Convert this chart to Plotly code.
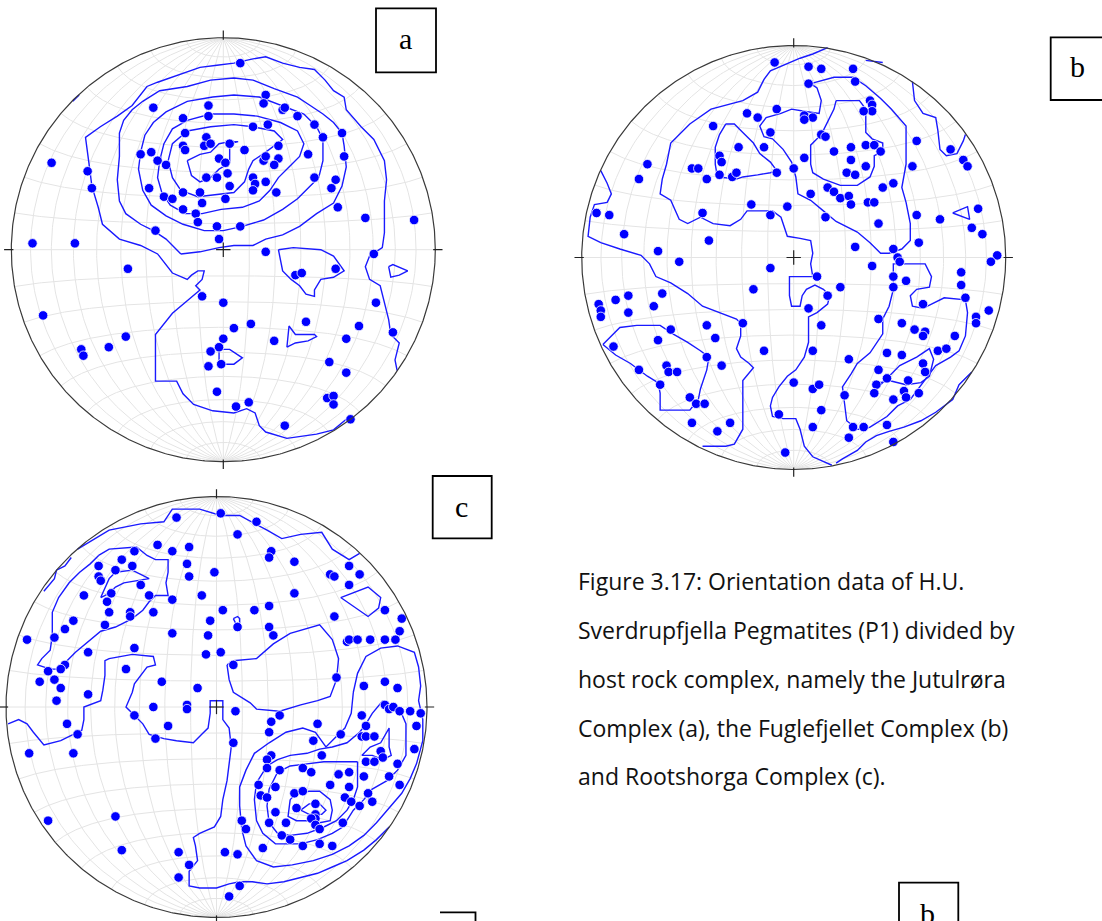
import numpy as np
import plotly.graph_objects as go

W, H = 1102, 921

# Poles to pegmatite planes as (east, north) positions on a unit equal-area net
poles_a = [(0.08,0.88),(0.20,0.73),(0.19,0.69),(0.28,0.66),(0.29,0.67),(-0.07,0.68),(-0.07,0.63),(-0.33,0.67),
    (-0.19,0.62),(0.35,0.63),(0.43,0.59),(0.47,0.53),(0.56,0.55),(0.14,0.58),(0.21,0.59),(-0.18,0.55),(-0.08,0.53),
    (-0.09,0.49),(-0.06,0.50),(0.03,0.50),(-0.19,0.49),(-0.18,0.47),(0.26,0.49),(0.10,0.47),(-0.39,0.45),(-0.34,0.46),
    (-0.31,0.42),(-0.27,0.40),(-0.02,0.43),(0.01,0.41),(0.19,0.42),(0.20,0.44),(0.26,0.43),(0.24,0.40),(0.40,0.45),
    (0.57,0.44),(-0.81,0.41),(-0.64,0.37),(-0.62,0.29),(0.02,0.36),(-0.08,0.34),(-0.03,0.34),(0.14,0.34),(0.15,0.31),
    (0.20,0.32),(0.03,0.30),(0.43,0.34),(0.53,0.33),(0.51,0.29),(-0.35,0.29),(-0.19,0.27),(-0.11,0.27),(0.14,0.28),
    (0.25,0.27),(-0.28,0.25),(-0.24,0.24),(-0.10,0.22),(0.01,0.24),(-0.19,0.19),(-0.13,0.17),(-0.12,0.13),(-0.03,0.11),
    (0.08,0.11),(0.54,0.20),(0.67,0.15),(0.90,0.14),(-0.32,0.09),(-0.02,0.05),(-0.90,0.03),(-0.70,0.03),(0.20,-0.01),
    (0.71,-0.02),(-0.45,-0.09),(0.53,-0.09),(0.34,-0.12),(0.37,-0.11),(-0.10,-0.22),(0.00,-0.25),(0.72,-0.25),
    (-0.85,-0.31),(0.39,-0.34),(0.13,-0.35),(0.05,-0.37),(0.64,-0.36),(0.80,-0.39),(-0.46,-0.41),(-0.54,-0.46),
    (-0.67,-0.47),(-0.66,-0.50),(0.00,-0.42),(0.24,-0.43),(0.58,-0.42),(-0.02,-0.46),(-0.06,-0.48),(-0.07,-0.55),
    (-0.01,-0.54),(0.50,-0.53),(0.58,-0.58),(-0.03,-0.67),(0.49,-0.70),(0.52,-0.69),(0.52,-0.73),(0.06,-0.74),
    (0.12,-0.72),(0.29,-0.83),(0.60,-0.80)]

poles_b = [(-0.09,0.92),(0.07,0.90),(0.13,0.89),(0.28,0.89),(0.29,0.83),(0.07,0.82),(0.36,0.74),(0.37,0.72),
    (0.37,0.69),(0.33,0.69),(-0.08,0.70),(-0.22,0.68),(-0.17,0.66),(0.05,0.67),(0.09,0.66),(0.05,0.65),(-0.38,0.62),
    (-0.11,0.59),(0.13,0.58),(0.15,0.57),(0.58,0.55),(0.74,0.51),(0.80,0.46),(0.82,0.43),(-0.26,0.52),(-0.14,0.52),
    (-0.35,0.48),(-0.34,0.45),(0.27,0.52),(0.34,0.53),(0.38,0.53),(0.41,0.50),(0.19,0.50),(0.27,0.46),(0.34,0.43),
    (0.05,0.47),(0.00,0.42),(-0.69,0.44),(-0.48,0.42),(-0.45,0.42),(-0.73,0.37),(-0.41,0.37),(-0.35,0.39),(-0.29,0.38),
    (-0.27,0.40),(-0.08,0.40),(0.25,0.40),(0.29,0.39),(0.56,0.43),(0.47,0.35),(0.42,0.33),(0.16,0.33),(0.19,0.31),
    (0.22,0.28),(0.26,0.29),(0.27,0.25),(0.08,0.30),(0.35,0.26),(0.38,0.26),(-0.20,0.25),(-0.03,0.24),(-0.11,0.20),
    (0.15,0.19),(0.40,0.16),(0.58,0.20),(0.69,0.18),(0.87,0.23),(0.84,0.14),(0.89,0.11),(-0.93,0.21),(-0.87,0.20),
    (-0.80,0.11),(-0.43,0.21),(-0.40,0.08),(-0.64,0.03),(-0.54,-0.02),(0.29,0.05),(0.59,0.07),(0.47,0.04),(0.49,0.00),
    (0.50,-0.02),(0.96,0.01),(0.93,-0.02),(0.37,-0.04),(-0.11,-0.05),(0.11,-0.09),(0.47,-0.09),(0.53,-0.11),
    (0.47,-0.14),(0.79,-0.07),(0.79,-0.13),(0.81,-0.19),(-0.19,-0.15),(0.22,-0.14),(0.16,-0.18),(0.07,-0.24),
    (-0.92,-0.22),(-0.91,-0.25),(-0.91,-0.28),(-0.84,-0.20),(-0.78,-0.18),(-0.62,-0.17),(-0.78,-0.26),(-0.66,-0.23),
    (0.61,-0.22),(0.92,-0.25),(0.86,-0.28),(0.86,-0.31),(0.40,-0.29),(0.51,-0.31),(0.57,-0.34),(0.62,-0.35),
    (0.61,-0.37),(0.76,-0.37),(0.13,-0.32),(-0.24,-0.31),(-0.41,-0.32),(-0.58,-0.34),(-0.37,-0.38),(-0.64,-0.39),
    (-0.85,-0.42),(-0.14,-0.44),(0.09,-0.44),(0.44,-0.45),(0.51,-0.46),(0.68,-0.44),(0.72,-0.43),(0.26,-0.48),
    (-0.41,-0.47),(-0.34,-0.51),(-0.60,-0.51),(-0.59,-0.54),(-0.55,-0.54),(-0.73,-0.53),(0.40,-0.53),(0.44,-0.57),
    (0.61,-0.50),(0.62,-0.54),(0.54,-0.58),(0.39,-0.60),(0.38,-0.64),(0.52,-0.63),(0.53,-0.66),(0.59,-0.64),
    (0.47,-0.67),(-0.63,-0.60),(0.00,-0.59),(0.09,-0.62),(0.12,-0.60),(0.24,-0.65),(-0.49,-0.66),(-0.46,-0.69),
    (-0.42,-0.69),(0.13,-0.72),(-0.07,-0.74),(-0.48,-0.78),(-0.36,-0.82),(-0.30,-0.78),(0.09,-0.80),(0.28,-0.80),
    (0.33,-0.80),(0.44,-0.79),(0.26,-0.85),(0.47,-0.87),(-0.04,-0.92)]

poles_c = [(0.02,0.92),(-0.19,0.90),(0.19,0.88),(0.10,0.82),(-0.28,0.77),(-0.21,0.74),(-0.13,0.76),(-0.39,0.74),
    (0.26,0.74),(0.25,0.71),(0.37,0.69),(-0.45,0.70),(-0.40,0.67),(-0.56,0.67),(-0.48,0.65),(-0.56,0.62),(-0.55,0.60),
    (-0.14,0.68),(-0.13,0.62),(-0.01,0.64),(0.54,0.63),(0.56,0.62),(0.63,0.67),(0.68,0.63),(0.63,0.58),(-0.36,0.58),
    (-0.50,0.54),(-0.63,0.53),(-0.52,0.50),(-0.32,0.53),(-0.21,0.51),(-0.07,0.53),(0.37,0.54),(-0.51,0.45),(-0.41,0.45),
    (-0.41,0.43),(-0.30,0.45),(0.03,0.46),(0.18,0.46),(0.25,0.48),(0.56,0.43),(0.80,0.46),(0.88,0.42),(-0.68,0.41),
    (-0.72,0.37),(-0.53,0.39),(-0.03,0.41),(0.10,0.38),(0.25,0.38),(0.27,0.34),(0.87,0.36),(-0.90,0.32),(-0.77,0.33),
    (-0.21,0.35),(-0.04,0.34),(0.62,0.31),(0.63,0.32),(0.67,0.32),(0.73,0.32),(0.80,0.32),(0.85,0.32),(-0.61,0.26),
    (-0.39,0.28),(-0.05,0.25),(0.02,0.26),(-0.72,0.20),(-0.74,0.18),(-0.80,0.17),(-0.77,0.13),(-0.84,0.12),(-0.74,0.09),
    (-0.43,0.18),(0.08,0.20),(-0.26,0.12),(-0.09,0.09),(0.57,0.14),(0.70,0.10),(0.80,0.12),(0.86,0.09),(-0.76,0.03),
    (-0.61,0.06),(-0.30,0.00),(-0.14,0.01),(-0.14,-0.01),(0.09,-0.02),(0.80,0.01),(0.82,-0.01),(0.84,0.00),(0.87,-0.02),
    (0.92,-0.02),(0.97,-0.03),(0.69,-0.04),(0.30,-0.04),(0.26,-0.07),(-0.39,-0.04),(-0.71,-0.08),(-0.23,-0.09),
    (0.48,-0.08),(0.71,-0.09),(0.95,-0.09),(-0.66,-0.13),(-0.29,-0.15),(0.25,-0.12),(0.59,-0.13),(0.69,-0.14),
    (0.71,-0.14),(0.75,-0.14),(0.46,-0.16),(0.08,-0.17),(-0.89,-0.22),(-0.68,-0.22),(0.26,-0.23),(0.50,-0.23),
    (0.78,-0.21),(0.94,-0.20),(0.24,-0.25),(0.79,-0.24),(0.71,-0.26),(0.75,-0.26),(0.86,-0.27),(0.24,-0.29),
    (0.30,-0.30),(0.41,-0.29),(0.45,-0.31),(0.58,-0.32),(0.63,-0.31),(0.70,-0.33),(0.82,-0.33),(0.20,-0.37),
    (0.28,-0.38),(0.54,-0.37),(0.63,-0.38),(0.87,-0.37),(0.37,-0.41),(0.41,-0.40),(0.21,-0.42),(0.24,-0.43),
    (0.61,-0.43),(0.64,-0.45),(0.72,-0.41),(0.74,-0.45),(0.47,-0.46),(0.38,-0.48),(0.68,-0.47),(0.28,-0.50),
    (0.47,-0.51),(0.47,-0.53),(0.45,-0.53),(0.47,-0.56),(0.49,-0.58),(0.33,-0.55),(0.25,-0.55),(0.12,-0.54),
    (0.14,-0.58),(0.60,-0.55),(0.31,-0.61),(0.35,-0.63),(0.41,-0.66),(0.49,-0.65),(0.55,-0.66),(0.22,-0.67),
    (-0.80,-0.54),(-0.48,-0.52),(-0.45,-0.68),(-0.18,-0.69),(0.04,-0.69),(0.10,-0.70),(-0.13,-0.75),(-0.18,-0.81),
    (0.11,-0.85),(0.06,-0.90)]

# Density contour paths (net coordinates); "open" paths end on the primitive circle
a_open = [
    [(0.58,-0.80),(0.52,-0.85),(0.44,-0.87),(0.36,-0.88),(0.30,-0.89),(0.20,-0.86),(0.17,-0.83),(0.15,-0.77),
     (0.11,-0.75),(0.05,-0.77),(-0.05,-0.76),(-0.14,-0.73),(-0.19,-0.68),(-0.22,-0.62),(-0.32,-0.62),(-0.32,-0.40),
     (-0.24,-0.30),(-0.11,-0.19),(-0.13,-0.17),(-0.10,-0.14),(-0.09,-0.10),(-0.12,-0.10),(-0.15,-0.12),(-0.17,-0.14),
     (-0.24,-0.11),(-0.31,-0.02),(-0.39,0.02),(-0.49,0.05),(-0.57,0.12),(-0.59,0.20),(-0.62,0.30),(-0.63,0.38),
     (-0.64,0.45),(-0.65,0.53),(-0.58,0.58),(-0.50,0.63),(-0.43,0.68),(-0.36,0.77),(-0.31,0.79),(-0.20,0.83),
     (-0.11,0.86),(-0.03,0.87),(0.05,0.88),(0.14,0.90),(0.20,0.91),(0.28,0.88),(0.36,0.86),(0.43,0.85),(0.48,0.80),
     (0.52,0.75),(0.57,0.72),(0.58,0.66),(0.65,0.58),(0.71,0.52),(0.76,0.42),(0.77,0.33),(0.76,0.23),(0.76,0.08),
     (0.75,0.01),(0.69,-0.03),(0.67,-0.08),(0.69,-0.14),(0.74,-0.17),(0.76,-0.25),(0.78,-0.33),(0.79,-0.40),
     (0.83,-0.44),(0.81,-0.52),(0.82,-0.57)],
    [(-0.71,0.70),(-0.68,0.73)],
]
a_closed = [
    [(-0.20,-0.02),(-0.11,-0.01),(-0.02,0.01),(0.05,0.02),(0.14,0.02),(0.20,0.05),(0.28,0.07),(0.36,0.11),(0.44,0.17),
     (0.52,0.22),(0.56,0.30),(0.58,0.39),(0.57,0.49),(0.56,0.55),(0.52,0.60),(0.47,0.64),(0.41,0.68),(0.35,0.72),
     (0.24,0.76),(0.14,0.80),(0.05,0.81),(-0.06,0.80),(-0.17,0.77),(-0.30,0.75),(-0.38,0.70),(-0.43,0.66),(-0.47,0.61),
     (-0.49,0.55),(-0.49,0.44),(-0.50,0.33),(-0.49,0.23),(-0.46,0.17),(-0.39,0.12),(-0.33,0.09),(-0.27,0.05)],
    [(-0.05,0.72),(0.05,0.73),(0.17,0.72),(0.28,0.68),(0.38,0.64),(0.44,0.58),(0.47,0.52),(0.47,0.42),(0.45,0.34),
     (0.41,0.30),(0.35,0.24),(0.28,0.19),(0.19,0.14),(0.09,0.11),(0.00,0.09),(-0.09,0.09),(-0.19,0.12),(-0.27,0.16),
     (-0.34,0.21),(-0.38,0.28),(-0.40,0.38),(-0.39,0.46),(-0.37,0.54),(-0.33,0.60),(-0.27,0.65),(-0.17,0.70)],
    [(-0.17,0.61),(-0.06,0.64),(0.05,0.64),(0.16,0.63),(0.27,0.60),(0.35,0.56),(0.38,0.50),(0.36,0.44),(0.31,0.39),
     (0.26,0.34),(0.22,0.28),(0.17,0.23),(0.09,0.20),(-0.01,0.19),(-0.10,0.17),(-0.18,0.17),(-0.25,0.21),(-0.29,0.27),
     (-0.31,0.34),(-0.30,0.42),(-0.28,0.50),(-0.24,0.57)],
    [(-0.17,0.56),(-0.06,0.58),(0.05,0.59),(0.14,0.58),(0.24,0.56),(0.28,0.52),(0.20,0.46),(0.14,0.42),(0.12,0.38),
     (0.10,0.32),(0.05,0.27),(-0.03,0.26),(-0.12,0.25),(-0.20,0.28),(-0.24,0.34),(-0.26,0.42),(-0.24,0.50)],
    [(-0.17,0.42),(-0.11,0.45),(-0.06,0.46),(-0.02,0.50),(0.03,0.51),(0.07,0.51),(0.03,0.50),(0.03,0.41),(-0.02,0.38),
     (-0.06,0.34),(-0.11,0.32),(-0.15,0.35)],
    [(0.26,0.00),(0.33,0.01),(0.46,0.00),(0.52,-0.03),(0.57,-0.10),(0.52,-0.13),(0.46,-0.14),(0.43,-0.19),(0.43,-0.22),
     (0.39,-0.21),(0.36,-0.17),(0.32,-0.14),(0.28,-0.10),(0.27,-0.04)],
    [(0.78,-0.08),(0.80,-0.07),(0.87,-0.10),(0.83,-0.12),(0.79,-0.13)],
    [(0.30,-0.46),(0.31,-0.36),(0.34,-0.40),(0.43,-0.40),(0.44,-0.41),(0.40,-0.43),(0.34,-0.44)],
    [(-0.02,-0.47),(0.03,-0.47),(0.09,-0.51),(0.05,-0.54),(-0.02,-0.54)],
]

b_open = [
    [(0.16,0.99),(0.09,0.96),(0.03,0.94),(-0.06,0.90),(-0.11,0.88),(-0.14,0.84),(-0.17,0.78),(-0.24,0.74),(-0.32,0.72),
     (-0.39,0.70),(-0.49,0.63),(-0.58,0.54),(-0.60,0.44),(-0.62,0.37),(-0.63,0.30),(-0.58,0.27),(-0.54,0.18),
     (-0.50,0.16),(-0.44,0.19),(-0.38,0.16),(-0.30,0.15),(-0.25,0.18),(-0.22,0.22),(-0.18,0.22),(-0.10,0.22),
     (-0.06,0.19),(-0.03,0.10),(0.03,0.09),(0.08,0.08),(0.09,0.02),(0.08,-0.03),(0.09,-0.09),(0.03,-0.09),(-0.02,-0.09),
     (-0.02,-0.18),(-0.01,-0.23),(0.03,-0.23),(0.04,-0.18),(0.06,-0.15),(0.10,-0.13),(0.14,-0.15),(0.17,-0.18),
     (0.16,-0.22),(0.11,-0.26),(0.07,-0.28),(0.07,-0.40),(0.05,-0.47),(0.01,-0.53),(-0.03,-0.56),(-0.07,-0.61),
     (-0.10,-0.66),(-0.11,-0.70),(-0.10,-0.75),(-0.05,-0.76),(0.01,-0.76),(0.03,-0.81),(0.05,-0.89),(0.09,-0.94),
     (0.18,-0.98)],
    [(-0.91,0.41),(-0.88,0.35),(-0.86,0.30),(-0.88,0.26),(-0.94,0.25),(-0.96,0.19),(-0.97,0.10),(-0.91,0.07),
     (-0.82,0.04),(-0.72,0.01),(-0.68,-0.03),(-0.65,-0.09),(-0.58,-0.12),(-0.50,-0.17),(-0.43,-0.23),(-0.35,-0.26),
     (-0.27,-0.29),(-0.25,-0.31),(-0.25,-0.37),(-0.27,-0.43),(-0.25,-0.47),(-0.21,-0.50),(-0.19,-0.52),(-0.24,-0.58),
     (-0.24,-0.66),(-0.24,-0.81),(-0.28,-0.88),(-0.32,-0.89),(-0.43,-0.89)],
    [(0.56,0.83),(0.57,0.74),(0.61,0.68),(0.67,0.66),(0.68,0.60),(0.69,0.51),(0.72,0.48),(0.77,0.49),(0.80,0.55),
     (0.81,0.58)],
    [(0.34,0.93),(0.42,0.92)],
    [(0.84,-0.54),(0.78,-0.60),(0.75,-0.67),(0.67,-0.73),(0.60,-0.77),(0.52,-0.80),(0.45,-0.82),(0.39,-0.84),
     (0.34,-0.87),(0.30,-0.91),(0.23,-0.95),(0.20,-0.97)],
]
b_closed = [
    [(0.08,0.82),(0.19,0.85),(0.28,0.85),(0.34,0.81),(0.41,0.75),(0.46,0.70),(0.53,0.62),(0.53,0.44),(0.51,0.33),
     (0.53,0.26),(0.55,0.16),(0.55,0.08),(0.51,0.04),(0.45,0.02),(0.41,0.02),(0.36,0.07),(0.30,0.12),(0.20,0.17),
     (0.14,0.22),(0.08,0.27),(0.02,0.30),(0.01,0.38),(-0.01,0.45),(-0.05,0.51),(-0.10,0.56),(-0.14,0.57),(-0.16,0.62),
     (-0.13,0.66),(-0.06,0.68),(-0.01,0.70),(0.05,0.69),(0.12,0.68),(0.13,0.74),(0.11,0.80)],
    [(0.20,0.74),(0.31,0.74),(0.34,0.70),(0.34,0.59),(0.37,0.56),(0.42,0.54),(0.42,0.50),(0.38,0.48),(0.38,0.43),
     (0.36,0.38),(0.30,0.34),(0.22,0.34),(0.14,0.37),(0.09,0.40),(0.08,0.44),(0.08,0.53),(0.12,0.57),(0.14,0.60),
     (0.19,0.70)],
    [(-0.32,0.63),(-0.28,0.63),(-0.24,0.59),(-0.19,0.54),(-0.16,0.49),(-0.11,0.45),(-0.08,0.41),(-0.11,0.40),
     (-0.17,0.39),(-0.24,0.38),(-0.27,0.37),(-0.36,0.38),(-0.37,0.44),(-0.37,0.52),(-0.35,0.58)],
    [(-0.90,-0.41),(-0.82,-0.33),(-0.74,-0.32),(-0.63,-0.32),(-0.57,-0.36),(-0.50,-0.40),(-0.44,-0.44),(-0.40,-0.47),
     (-0.41,-0.53),(-0.43,-0.59),(-0.44,-0.62),(-0.45,-0.67),(-0.49,-0.72),(-0.63,-0.72),(-0.63,-0.64),(-0.64,-0.59),
     (-0.69,-0.56),(-0.77,-0.50),(-0.84,-0.46)],
    [(0.75,0.21),(0.82,0.24),(0.83,0.18)],
    [(0.52,-0.03),(0.62,-0.03),(0.65,-0.09),(0.64,-0.14),(0.58,-0.15),(0.55,-0.18),(0.56,-0.23),(0.61,-0.24),
     (0.71,-0.19),(0.81,-0.20),(0.82,-0.26),(0.81,-0.37),(0.78,-0.44),(0.74,-0.47),(0.67,-0.51),(0.61,-0.59),
     (0.55,-0.67),(0.49,-0.70),(0.44,-0.75),(0.36,-0.80),(0.33,-0.81),(0.30,-0.81),(0.25,-0.77),(0.24,-0.69),
     (0.23,-0.61),(0.27,-0.55),(0.30,-0.50),(0.36,-0.45),(0.42,-0.36),(0.42,-0.29),(0.45,-0.23),(0.47,-0.15),
     (0.47,-0.03)],
    [(0.39,-0.62),(0.45,-0.56),(0.50,-0.51),(0.58,-0.47),(0.64,-0.43),(0.66,-0.48),(0.64,-0.56),(0.60,-0.59),
     (0.53,-0.60),(0.45,-0.58),(0.41,-0.59)],
]

c_open = [
    [(-0.66,0.75),(-0.51,0.84),(-0.36,0.87),(-0.25,0.88),(-0.21,0.94),(-0.08,0.94),(0.02,0.91),(0.11,0.91),(0.24,0.84),
     (0.31,0.80),(0.40,0.82),(0.50,0.83),(0.55,0.75),(0.63,0.70),(0.68,0.73)],
    [(-0.82,0.55),(-0.77,0.61),(-0.76,0.65),(-0.72,0.67),(-0.69,0.71)],
    [(-0.99,-0.08),(-0.94,-0.06),(-0.90,-0.08),(-0.87,-0.12),(-0.82,-0.18),(-0.74,-0.16),(-0.68,-0.13),(-0.64,-0.11),
     (-0.63,-0.06),(-0.63,0.00),(-0.55,0.03),(-0.54,0.08),(-0.53,0.15),(-0.53,0.22),(-0.51,0.23),(-0.40,0.25),
     (-0.30,0.24),(-0.29,0.20),(-0.33,0.19),(-0.36,0.15),(-0.39,0.11),(-0.40,0.07),(-0.43,0.00),(-0.40,-0.03),
     (-0.35,-0.08),(-0.32,-0.13),(-0.25,-0.15),(-0.19,-0.16),(-0.11,-0.17),(-0.07,-0.13),(-0.04,-0.10),(-0.03,-0.03),
     (-0.03,0.03),(0.03,0.03),(0.03,-0.06),(0.06,-0.10),(0.07,-0.19),(0.06,-0.27),(0.05,-0.35),(0.03,-0.44),
     (0.02,-0.52),(-0.01,-0.57),(-0.08,-0.60),(-0.11,-0.62),(-0.10,-0.66),(-0.09,-0.73),(-0.13,-0.78),(-0.13,-0.85),
     (-0.08,-0.86),(0.00,-0.86),(0.06,-0.84),(0.11,-0.83),(0.17,-0.83),(0.24,-0.84),(0.32,-0.83),(0.40,-0.81),
     (0.48,-0.79),(0.55,-0.76),(0.62,-0.73),(0.70,-0.68),(0.76,-0.63),(0.82,-0.57)],
]
c_closed = [
    [(-0.56,0.72),(-0.51,0.75),(-0.38,0.76),(-0.33,0.72),(-0.29,0.70),(-0.23,0.70),(-0.23,0.64),(-0.24,0.59),
     (-0.23,0.53),(-0.29,0.53),(-0.32,0.50),(-0.35,0.46),(-0.40,0.42),(-0.48,0.38),(-0.55,0.36),(-0.62,0.30),
     (-0.67,0.26),(-0.71,0.22),(-0.74,0.18),(-0.79,0.18),(-0.85,0.20),(-0.83,0.23),(-0.79,0.27),(-0.78,0.34),
     (-0.78,0.38),(-0.78,0.45),(-0.75,0.52),(-0.70,0.59),(-0.65,0.64),(-0.60,0.68)],
    [(-0.55,0.52),(-0.51,0.61),(-0.48,0.64),(-0.40,0.65),(-0.32,0.61),(-0.38,0.60),(-0.44,0.59),(-0.48,0.57),
     (-0.51,0.54)],
    [(0.05,0.20),(0.08,0.22),(0.19,0.23),(0.27,0.30),(0.35,0.35),(0.49,0.39),(0.55,0.32),(0.58,0.23),(0.57,0.13),
     (0.54,0.05),(0.48,0.03),(0.40,0.01),(0.30,-0.02),(0.19,-0.01),(0.16,0.02),(0.08,0.07),(0.06,0.13)],
    [(0.65,0.07),(0.67,0.16),(0.71,0.24),(0.78,0.28),(0.86,0.29),(0.94,0.26),(0.96,0.19),(0.97,0.10),(0.96,0.03),
     (0.98,-0.06),(0.98,-0.16),(0.95,-0.27),(0.92,-0.34),(0.88,-0.41),(0.82,-0.48),(0.76,-0.55),(0.70,-0.61),
     (0.63,-0.66),(0.55,-0.70),(0.46,-0.73),(0.36,-0.75),(0.27,-0.76),(0.19,-0.73),(0.14,-0.66),(0.12,-0.58),
     (0.11,-0.47),(0.11,-0.38),(0.14,-0.30),(0.18,-0.22),(0.25,-0.17),(0.33,-0.12),(0.41,-0.10),(0.47,-0.12),
     (0.52,-0.19),(0.56,-0.15),(0.61,-0.10),(0.64,-0.03)],
    [(0.79,0.03),(0.87,-0.01),(0.90,-0.08),(0.90,-0.16),(0.90,-0.23),(0.86,-0.30),(0.81,-0.35),(0.74,-0.39),
     (0.70,-0.44),(0.65,-0.49),(0.60,-0.57),(0.55,-0.60),(0.48,-0.63),(0.40,-0.65),(0.33,-0.65),(0.28,-0.65),
     (0.22,-0.60),(0.19,-0.54),(0.18,-0.44),(0.19,-0.36),(0.24,-0.28),(0.29,-0.25),(0.35,-0.23),(0.43,-0.22),
     (0.49,-0.20),(0.55,-0.19),(0.62,-0.17),(0.68,-0.12),(0.71,-0.08),(0.74,-0.03)],
    [(0.67,-0.26),(0.67,-0.31),(0.67,-0.38),(0.65,-0.44),(0.62,-0.49),(0.57,-0.54),(0.51,-0.57),(0.43,-0.60),
     (0.35,-0.61),(0.29,-0.60),(0.25,-0.55),(0.24,-0.47),(0.25,-0.39),(0.29,-0.31),(0.35,-0.28),(0.43,-0.27),
     (0.51,-0.26),(0.59,-0.26)],
    [(0.69,-0.23),(0.73,-0.19),(0.78,-0.17),(0.81,-0.12),(0.82,-0.10),(0.82,-0.19),(0.83,-0.23),(0.79,-0.25),
     (0.74,-0.23)],
    [(0.35,-0.44),(0.38,-0.41),(0.44,-0.40),(0.49,-0.40),(0.54,-0.44),(0.55,-0.49),(0.54,-0.54),(0.49,-0.55),
     (0.44,-0.54),(0.38,-0.54),(0.34,-0.52)],
    [(0.40,-0.49),(0.44,-0.46),(0.49,-0.46),(0.52,-0.49),(0.50,-0.51),(0.44,-0.51)],
    [(0.59,0.52),(0.72,0.57),(0.78,0.52),(0.77,0.47),(0.72,0.43)],
    [(0.08,0.42),(0.10,0.43),(0.11,0.42),(0.11,0.40),(0.09,0.40)],
]

panel_labels = ["a", "b", "c"]

caption_lines = [
    "Figure 3.17: Orientation data of H.U.",
    "Sverdrupfjella Pegmatites (P1) divided by",
    "host rock complex, namely the Jutulrøra",
    "Complex (a), the Fuglefjellet Complex (b)",
    "and Rootshorga Complex (c).",
]

# ---- layout of the three nets on the page (pixel centre and radius) ----
nets = [
    dict(poles=poles_a, open=a_open, closed=a_closed, cx=223.3, cy=249.7, r=212.0),
    dict(poles=poles_b, open=b_open, closed=b_closed, cx=793.7, cy=257.5, r=212.0),
    dict(poles=poles_c, open=c_open, closed=c_closed, cx=216.5, cy=707.0, r=210.5),
]

BLUE = "#0000ff"
LINE_BLUE = "#1a1aff"
GRID = "#e4e4e4"


def schmidt(lam_deg, phi_deg):
    lam = np.radians(lam_deg)
    phi = np.radians(phi_deg)
    k = np.sqrt(2.0 / (1.0 + np.cos(phi) * np.cos(lam)))
    return k * np.cos(phi) * np.sin(lam) / np.sqrt(2.0), k * np.sin(phi) / np.sqrt(2.0)


def grid_paths():
    xs, ys = [], []
    t = np.linspace(-90, 90, 181)
    for lam in range(-80, 81, 10):
        x, y = schmidt(np.full_like(t, lam), t)
        xs += list(x) + [None]
        ys += list(y) + [None]
    for phi in range(-80, 81, 10):
        x, y = schmidt(t, np.full_like(t, phi))
        xs += list(x) + [None]
        ys += list(y) + [None]
    return xs, ys


def join_paths(open_paths, closed_paths):
    xs, ys = [], []
    for path in open_paths:
        xs += [p[0] for p in path] + [None]
        ys += [p[1] for p in path] + [None]
    for path in closed_paths:
        loop = list(path) + [path[0]]
        xs += [p[0] for p in loop] + [None]
        ys += [p[1] for p in loop] + [None]
    return xs, ys


fig = go.Figure()
gx, gy = grid_paths()
theta = np.linspace(0, 2 * np.pi, 721)
tick_out, tick_in = 1.034, 0.99
cross = 0.034

for i, net in enumerate(nets, 1):
    xa = "x" if i == 1 else f"x{i}"
    ya = "y" if i == 1 else f"y{i}"
    cx, cy, r = net["cx"], net["cy"], net["r"]
    pad = 1.07
    x0 = max(0.0, cx - pad * r)
    x1 = min(W, cx + pad * r)
    top = max(0.0, cy - pad * r)
    bot = min(H, cy + pad * r)
    xr = [(x0 - cx) / r, (x1 - cx) / r]
    yr = [(cy - bot) / r, (cy - top) / r]
    ax_common = dict(visible=False, showgrid=False, zeroline=False, fixedrange=True)
    fig.layout[f"xaxis{'' if i == 1 else i}"] = dict(domain=[x0 / W, x1 / W], range=xr, anchor=ya, **ax_common)
    fig.layout[f"yaxis{'' if i == 1 else i}"] = dict(domain=[1 - bot / H, 1 - top / H], range=yr, anchor=xa, **ax_common)

    fig.add_trace(go.Scatter(x=gx, y=gy, mode="lines", line=dict(color=GRID, width=1),
                             hoverinfo="skip", xaxis=xa, yaxis=ya, showlegend=False))
    cxs, cys = join_paths(net["open"], net["closed"])
    fig.add_trace(go.Scatter(x=cxs, y=cys, mode="lines", line=dict(color=LINE_BLUE, width=1.4),
                             hoverinfo="skip", xaxis=xa, yaxis=ya, showlegend=False))
    fig.add_trace(go.Scatter(x=[p[0] for p in net["poles"]], y=[p[1] for p in net["poles"]], mode="markers",
                             marker=dict(color=BLUE, size=9.5, line=dict(color="white", width=0.8)),
                             cliponaxis=False, xaxis=xa, yaxis=ya, showlegend=False))
    fig.add_trace(go.Scatter(x=np.cos(theta), y=np.sin(theta), mode="lines", line=dict(color="#3a3a3a", width=1.2),
                             hoverinfo="skip", xaxis=xa, yaxis=ya, showlegend=False))
    tx = [0, 0, None, 0, 0, None, tick_in, tick_out, None, -tick_in, -tick_out, None, -cross, cross, None, 0, 0]
    ty = [tick_in, tick_out, None, -tick_in, -tick_out, None, 0, 0, None, 0, 0, None, 0, 0, None, -cross, cross]
    fig.add_trace(go.Scatter(x=tx, y=ty, mode="lines", line=dict(color="#222222", width=1.2),
                             hoverinfo="skip", xaxis=xa, yaxis=ya, showlegend=False))


def px(x):
    return x / W


def py(y):
    return 1 - y / H


box_line = dict(color="black", width=1.8)
shapes = [
    dict(type="rect", xref="paper", yref="paper", x0=px(376), x1=px(436), y0=py(72.3), y1=py(8.3), line=box_line),
    dict(type="rect", xref="paper", yref="paper", x0=px(1050.7), x1=px(1115), y0=py(100), y1=py(37.3), line=box_line),
    dict(type="rect", xref="paper", yref="paper", x0=px(432.7), x1=px(491.7), y0=py(538.3), y1=py(476), line=box_line),
    dict(type="rect", xref="paper", yref="paper", x0=px(899), x1=px(958.3), y0=py(940), y1=py(882.7), line=box_line),
    dict(type="path", xref="paper", yref="paper",
         path=f"M {px(440)},{py(912.3)} L {px(475.5)},{py(912.3)} L {px(475.5)},{py(935)}", line=box_line),
]
fig.update_layout(shapes=shapes)

label_font = dict(family="Liberation Serif, Times New Roman, serif", size=30, color="black")
label_pos = [(405, 38), (1077, 66), (461.5, 506), (927.5, 913)]
label_text = panel_labels[:2] + [panel_labels[2], panel_labels[1]]
annotations = []
for (lx, ly), txt in zip(label_pos, label_text):
    annotations.append(dict(x=px(lx), y=py(ly), xref="paper", yref="paper", text=txt, showarrow=False,
                            xanchor="center", yanchor="middle", font=label_font))

cap_font = dict(family="Open Sans, Noto Sans, sans-serif", size=23, color="#111111")
for k, line in enumerate(caption_lines):
    baseline = 589.3 + 48.75 * k
    annotations.append(dict(x=px(576), y=py(baseline - 8), xref="paper", yref="paper", text=line,
                            showarrow=False, xanchor="left", yanchor="middle", font=cap_font))
fig.update_layout(annotations=annotations)

fig.update_layout(width=W, height=H, margin=dict(l=0, r=0, t=0, b=0), autosize=False,
                  paper_bgcolor="white", plot_bgcolor="rgba(0,0,0,0)", showlegend=False)

fig.write_html("out.html")
